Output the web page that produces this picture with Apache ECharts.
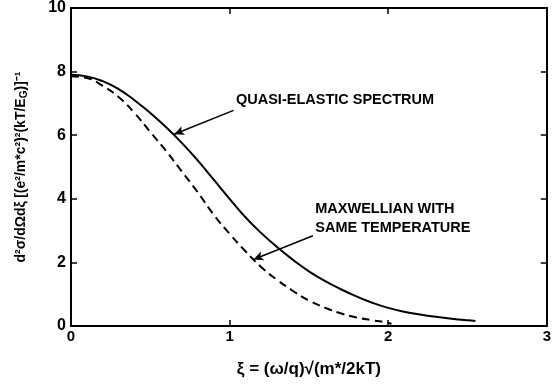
<!DOCTYPE html>
<html>
<head>
<meta charset="utf-8">
<script src="https://cdn.jsdelivr.net/npm/echarts@6/dist/echarts.min.js"></script>
<style>html,body{margin:0;padding:0;background:#fff}#c{width:554px;height:385px}</style>
</head>
<body>
<div id="c"></div>
<script>
// Data
const xTicks = [0, 1, 2, 3];
const yTicks = [0, 2, 4, 6, 8, 10];
const quasiX = [0, 0.1, 0.2, 0.3, 0.4, 0.5, 0.6, 0.7, 0.8, 0.9, 1.0, 1.1, 1.2, 1.3, 1.4, 1.5, 1.6, 1.7, 1.8, 1.9, 2.0, 2.1, 2.2, 2.3, 2.4, 2.5, 2.55];
const quasiY = [7.9, 7.85, 7.7, 7.45, 7.1, 6.7, 6.25, 5.75, 5.2, 4.6, 4.0, 3.42, 2.92, 2.48, 2.08, 1.72, 1.42, 1.16, 0.93, 0.73, 0.57, 0.45, 0.36, 0.29, 0.23, 0.18, 0.16];
const maxwX = [0, 0.1, 0.2, 0.3, 0.4, 0.5, 0.6, 0.7, 0.8, 0.9, 1.0, 1.1, 1.2, 1.3, 1.4, 1.5, 1.6, 1.7, 1.8, 1.9, 2.0, 2.02];
const maxwY = [7.85, 7.8, 7.55, 7.2, 6.7, 6.1, 5.5, 4.85, 4.2, 3.5, 2.9, 2.35, 1.85, 1.45, 1.1, 0.8, 0.58, 0.4, 0.27, 0.18, 0.1, 0.06];
const labelQuasi = 'QUASI-ELASTIC SPECTRUM';
const labelMaxw = ['MAXWELLIAN WITH', 'SAME TEMPERATURE'];
const xName = 'ξ = (ω/q)√(m*/2kT)';

const chart = echarts.init(document.getElementById('c'));
const FONT = '"Liberation Sans", Arial, sans-serif';
const axisCommon = {
  min: 0,
  interval: 1,
  axisLine: { show: true, onZero: false, lineStyle: { color: '#000', width: 2 } },
  axisTick: { show: true, inside: true, length: 6, lineStyle: { color: '#000', width: 1.5 } },
  splitLine: { show: false }
};
const annLabel = { show: true, position: [0, 0], align: 'left', verticalAlign: 'middle',
  color: '#000', fontSize: 14.5, fontWeight: 'bold', fontFamily: FONT };
const option = {
  animation: false,
  backgroundColor: '#fff',
  grid: { left: 71, right: 3, top: 7, bottom: 59 },
  xAxis: [
    Object.assign({}, axisCommon, {
      type: 'value', max: 3, position: 'bottom',
      axisLabel: { color: '#000', fontSize: 15, fontWeight: 'bold', fontFamily: FONT, margin: 3,
        formatter: v => xTicks.includes(v) ? String(v) : '' },
      name: xName, nameLocation: 'middle', nameGap: 35,
      nameTextStyle: { color: '#000', fontSize: 17, fontWeight: 'bold', fontFamily: FONT }
    }),
    Object.assign({}, axisCommon, {
      type: 'value', max: 3, position: 'top', axisLabel: { show: false }
    })
  ],
  yAxis: [
    Object.assign({}, axisCommon, {
      type: 'value', max: 10, interval: 2, position: 'left',
      axisLabel: { color: '#000', fontSize: 16, fontWeight: 'bold', fontFamily: FONT, margin: 5,
        formatter: v => yTicks.includes(v) ? String(v) : '' },
      name: '{n|d²σ/dΩdξ} {n|[(e²/m*c²)²(kT/E}{s|G}{n|)]⁻¹}',
      nameLocation: 'middle', nameRotate: 90, nameGap: 42,
      nameTextStyle: { color: '#000', fontFamily: FONT,
        rich: { n: { fontSize: 14, fontWeight: 'bold', fontFamily: FONT, color: '#000' },
                s: { fontSize: 10, fontWeight: 'bold', fontFamily: FONT, color: '#000', padding: [6, 0, 0, 0] } } }
    }),
    Object.assign({}, axisCommon, {
      type: 'value', max: 10, interval: 2, position: 'right', axisLabel: { show: false }
    })
  ],
  series: [
    {
      type: 'line', name: 'quasi',
      data: quasiX.map((x, i) => [x, quasiY[i]]),
      smooth: true, showSymbol: false,
      lineStyle: { color: '#000', width: 2 },
      markLine: {
        silent: true, symbol: ['none', 'arrow'], symbolSize: [7, 10],
        lineStyle: { color: '#000', width: 1.5, type: 'solid' }, label: { show: false },
        data: [[{ coord: [1.025, 6.78] }, { coord: [0.65, 6.03] }]]
      },
      markPoint: {
        silent: true, symbol: 'circle', symbolSize: 0,
        label: annLabel,
        data: [{ coord: [1.04, 7.1], value: 0, label: { formatter: labelQuasi } }]
      }
    },
    {
      type: 'line', name: 'maxw',
      data: maxwX.map((x, i) => [x, maxwY[i]]),
      smooth: true, showSymbol: false,
      lineStyle: { color: '#000', width: 2, type: [8, 5] },
      markLine: {
        silent: true, symbol: ['none', 'arrow'], symbolSize: [7, 10],
        lineStyle: { color: '#000', width: 1.5, type: 'solid' }, label: { show: false },
        data: [[{ coord: [1.525, 2.84] }, { coord: [1.15, 2.09] }]]
      },
      markPoint: {
        silent: true, symbol: 'circle', symbolSize: 0,
        label: annLabel,
        data: [
          { coord: [1.54, 3.69], value: 1, label: { formatter: labelMaxw[0] } },
          { coord: [1.54, 3.09], value: 2, label: { formatter: labelMaxw[1] } }
        ]
      }
    }
  ]
};
chart.setOption(option);
</script>
</body>
</html>
